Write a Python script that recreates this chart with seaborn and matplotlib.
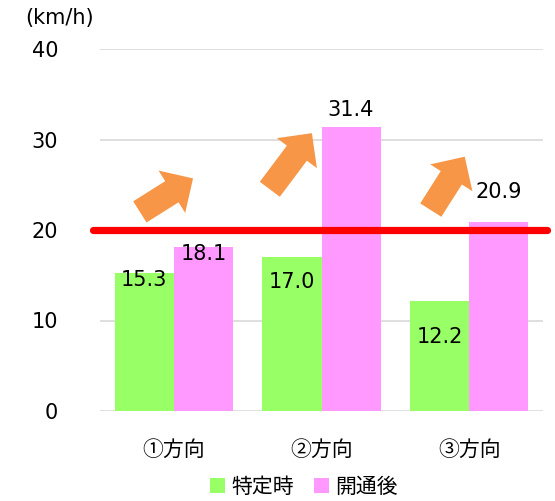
import pandas as pd
import seaborn as sns
import matplotlib.pyplot as plt
from matplotlib.patches import Patch

# data
directions = ["①方向", "②方向", "③方向"]
periods = ["特定時", "開通後"]
before = [15.3, 17.0, 12.2]
after = [18.1, 31.4, 20.9]
threshold = 20
y_ticks = [0, 10, 20, 30, 40]

# style
colors = ["#99FF66", "#FF99FF"]
arrow_color = "#F79646"
FS = 15

# label placement (value label centre, per bar), in data units
label_y_before = [14.5, 14.3, 8.2]
label_y_after = [17.4, 33.3, 24.2]
# arrows (tail -> tip) in data coords
arrows = [((-0.23, 22.0), (0.13, 25.7)),
          ((0.65, 24.5), (0.935, 30.7)),
          ((1.74, 22.2), (1.97, 28.1))]

sns.set_style("white")
plt.rcParams["font.family"] = ["DejaVu Sans", "Noto Sans CJK JP"]
plt.rcParams["text.color"] = "black"
plt.rcParams["xtick.color"] = "black"
plt.rcParams["ytick.color"] = "black"

df = pd.DataFrame({
    "direction": directions * 2,
    "period": [periods[0]] * 3 + [periods[1]] * 3,
    "speed": before + after,
})

fig = plt.figure(figsize=(5.55, 5.01), dpi=100)
ax = fig.add_axes([100 / 555, 1 - 411 / 501, 443 / 555, 362 / 501])

sns.barplot(data=df, x="direction", y="speed", hue="period",
            palette=colors, saturation=1, width=0.8, linewidth=0, ax=ax,
            legend=False)

ax.set_ylim(0, 40)
ax.set_yticks(y_ticks)
ax.set_xlabel("")
ax.set_ylabel("")
for s in ax.spines.values():
    s.set_visible(False)
ax.yaxis.grid(True, color="#D9D9D9", linewidth=1.2)
ax.set_axisbelow(True)
ax.tick_params(axis="y", length=0, pad=30, labelsize=FS, labelcolor="black")
ax.tick_params(axis="x", length=0, pad=20, labelsize=FS, labelcolor="black")
for t in ax.get_xticklabels():
    t.set_family(["Noto Sans CJK JP", "DejaVu Sans"])

# value labels
for i in range(3):
    ax.text(i - 0.2, label_y_before[i], f"{before[i]:.1f}", ha="center",
            va="center", fontsize=FS)
    ax.text(i + 0.2, label_y_after[i], f"{after[i]:.1f}", ha="center",
            va="center", fontsize=FS)

# threshold line
ax.axhline(threshold, xmin=-0.016, xmax=1.01, color="#FF0000", linewidth=5.2,
           clip_on=False, zorder=3)

for tail, tip in arrows:
    ax.annotate("", xy=tip, xytext=tail,
                arrowprops=dict(arrowstyle="simple,head_length=0.9,head_width=1.8,tail_width=0.9",
                                mutation_scale=20, fc=arrow_color, ec="none",
                                shrinkA=0, shrinkB=0), zorder=4)

fig.text(60 / 555, 1 - 18 / 501, "(km/h)", ha="center", va="center", fontsize=FS)

handles = [Patch(facecolor=c, edgecolor="none") for c in colors]
fig.legend(handles, periods, loc="center", bbox_to_anchor=(304 / 555, 1 - 487 / 501),
           ncol=2, frameon=False, handlelength=0.7, handleheight=0.7,
           handletextpad=0.3, columnspacing=1.0,
           prop={"family": ["Noto Sans CJK JP"], "size": FS})

fig.savefig("out.png", dpi=100)
